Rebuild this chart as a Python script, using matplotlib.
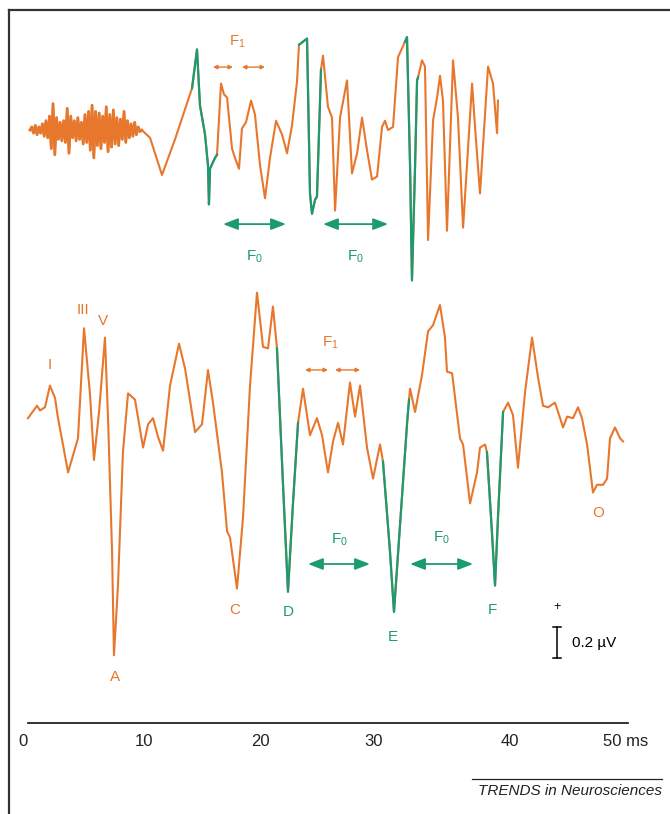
import numpy as np
import matplotlib.pyplot as plt

plt.rcParams['font.family'] = ['Liberation Sans', 'DejaVu Sans']
plt.rcParams['mathtext.fontset'] = 'custom'
plt.rcParams['mathtext.rm'] = 'Liberation Sans'
plt.rcParams['mathtext.it'] = 'Liberation Sans:italic'

ORANGE = '#e8772e'
GREEN = '#1c9a70'

# top trace (response to speech syllable), ms / uV
noise_t = [0.25, 0.4, 0.55, 0.7, 0.85, 1.0, 1.15, 1.3, 1.45, 1.6, 1.75, 1.9, 2.05, 2.2, 2.35, 2.5,
           2.65, 2.8, 2.95, 3.1, 3.25, 3.4, 3.55, 3.7, 3.85, 4.0, 4.15, 4.3, 4.45, 4.6, 4.75, 4.9,
           5.05, 5.2, 5.35, 5.5, 5.65, 5.8, 5.95, 6.1, 6.25, 6.4, 6.55, 6.7, 6.85, 7.0, 7.15, 7.3,
           7.45, 7.6, 7.75, 7.9, 8.05, 8.2, 8.35, 8.5, 8.65, 8.8, 8.95, 9.1, 9.25, 9.4, 9.55, 9.7]
noise_v = [0.0, 0.02, -0.02, 0.03, -0.03, 0.02, -0.02, 0.04, -0.04, 0.06, -0.05, 0.09, -0.12, 0.17,
           -0.16, 0.08, -0.06, 0.05, -0.07, 0.06, -0.08, 0.14, -0.15, 0.09, -0.05, 0.06, -0.07, 0.08,
           -0.06, 0.05, -0.09, 0.1, -0.08, 0.12, -0.13, 0.16, -0.18, 0.12, -0.1, 0.11, -0.12, 0.09,
           -0.08, 0.15, -0.14, 0.1, -0.11, 0.13, -0.09, 0.08, -0.1, 0.07, -0.06, 0.12, -0.08, 0.06,
           -0.05, 0.04, -0.04, 0.05, -0.03, 0.02, -0.01, 0.0]

top_t = [10.40, 11.41, 12.51, 13.78, 13.95, 14.37, 14.62, 15.05, 15.30, 15.38, 15.47, 15.89, 16.06,
         16.40, 16.65, 16.91, 17.33, 17.58, 17.92, 18.17, 18.51, 18.94, 19.27, 19.70, 20.12, 20.54,
         21.05, 21.56, 21.98, 22.40, 22.82, 22.99, 23.67, 23.92, 24.09, 24.35, 24.51, 24.77, 24.85,
         25.02, 25.44, 25.78, 26.04, 26.46, 27.05, 27.47, 27.90, 28.32, 28.74, 29.16, 29.59, 30.01,
         30.26, 30.52, 30.94, 31.36, 31.78, 31.95, 32.12, 32.38, 32.54, 32.80, 32.97, 33.05, 33.39,
         33.64, 33.90, 34.32, 34.66, 34.91, 35.16, 35.50, 36.01, 36.43, 36.86, 37.62, 37.87, 38.29,
         38.97, 39.39, 39.73, 39.81]
top_v = [-0.05, -0.29, -0.06, 0.23, 0.27, 0.52, 0.16, -0.03, -0.23, -0.48, -0.25, -0.18, -0.16,
         0.30, 0.23, 0.21, -0.12, -0.18, -0.25, 0.01, 0.05, 0.19, 0.10, -0.23, -0.44, -0.18,
         0.06, -0.03, -0.15, 0.03, 0.31, 0.55, 0.59, -0.41, -0.54, -0.45, -0.43, 0.19, 0.39,
         0.48, 0.15, 0.08, -0.52, 0.08, 0.32, -0.28, -0.15, 0.08, -0.13, -0.32, -0.30, 0.02,
         0.06, 0.0, 0.02, 0.47, 0.54, 0.57, 0.60, -0.24, -0.97, -0.24, 0.32, 0.34, 0.45,
         0.41, -0.71, 0.06, 0.21, 0.35, 0.19, -0.65, 0.45, 0.08, -0.63, 0.30, 0.02, -0.41,
         0.41, 0.30, -0.02, 0.19]
top_green = [(13.95, 16.06), (22.99, 24.85), (31.95, 33.05)]

# bottom trace (brainstem response)
bot_t = [0.08, 0.85, 1.10, 1.52, 1.94, 2.37, 2.62, 3.04, 3.47, 3.89, 4.31, 4.82, 5.33, 5.66, 6.09,
         6.59, 6.85, 7.19, 7.35, 7.69, 8.11, 8.54, 9.13, 9.81, 10.23, 10.65, 11.07, 11.50, 12.09,
         12.85, 13.36, 14.20, 14.79, 15.30, 15.72, 16.48, 16.91, 17.16, 17.75, 18.26, 18.85, 19.44,
         19.95, 20.37, 20.79, 21.13, 21.64, 22.06, 22.49, 22.91, 23.33, 23.92, 24.51, 24.94, 25.44,
         25.87, 26.29, 26.71, 27.30, 27.73, 28.15, 28.74, 29.25, 29.84, 30.09, 30.68, 31.02, 31.53,
         32.12, 32.29, 32.38, 32.80, 33.39, 33.90, 34.32, 34.91, 35.33, 35.50, 35.93, 36.60, 36.86,
         37.45, 38.04, 38.29, 38.72, 38.88, 39.31, 39.56, 39.81, 40.24, 40.66, 41.08, 41.50, 42.10,
         42.69, 43.20, 43.62, 44.04, 44.63, 45.06, 45.31, 45.65, 46.15, 46.58, 46.91, 47.34, 47.84,
         48.18, 48.69, 49.03, 49.28, 49.70, 50.13, 50.38]
bot_v = [-0.02, 0.06, 0.03, 0.05, 0.19, 0.11, -0.02, -0.19, -0.37, -0.26, -0.15, 0.56, 0.13, -0.29,
         0.02, 0.50, -0.02, -0.88, -1.55, -1.10, -0.24, 0.14, 0.10, -0.21, -0.06, -0.02, -0.14,
         -0.23, 0.19, 0.46, 0.30, -0.11, -0.06, 0.29, 0.08, -0.37, -0.75, -0.79, -1.12, -0.66,
         0.19, 0.79, 0.44, 0.43, 0.70, 0.43, -0.45, -1.14, -0.56, -0.05, 0.17, -0.13, -0.02,
         -0.13, -0.37, -0.17, -0.05, -0.19, 0.21, -0.01, 0.19, -0.21, -0.41, -0.19, -0.30, -0.88,
         -1.27, -0.71, -0.06, 0.10, 0.17, 0.02, 0.26, 0.54, 0.58, 0.71, 0.50, 0.28, 0.27, -0.15,
         -0.19, -0.57, -0.37, -0.21, -0.19, -0.24, -0.77, -1.10, -0.66, 0.02, 0.08, 0.0, -0.34,
         0.15, 0.50, 0.24, 0.06, 0.05, 0.08, -0.02, -0.08, -0.01, -0.02, 0.05, -0.02, -0.19,
         -0.50, -0.45, -0.45, -0.41, -0.15, -0.08, -0.15, -0.17]
bot_green = [(21.13, 22.91), (30.09, 32.29), (38.88, 40.24)]

# peak labels: (text, time, amplitude, colour key)
peak_labels = [('I', 1.94, 0.32, 'o'), ('III', 4.73, 0.68, 'o'), ('V', 6.42, 0.61, 'o'),
               ('A', 7.44, -1.69, 'o'), ('C', 17.58, -1.26, 'o'), ('D', 22.06, -1.27, 'g'),
               ('E', 30.94, -1.43, 'g'), ('F', 39.31, -1.26, 'g'), ('O', 48.3, -0.63, 'o')]

tick_pos = [-0.3, 9.9, 19.7, 29.3, 40.8, 48.7]
tick_lab = ['0', '10', '20', '30', '40', '50 ms']

top_base = 4.413
bot_base = 2.574

fig = plt.figure(figsize=(6.7, 8.14), dpi=100)
ax = fig.add_axes([0, 0, 1, 1])
ax.set_xlim(-2.282, 54.35)
ax.set_ylim(0, 5.252)
ax.axis('off')

# frame (left + top edges)
fig.add_artist(plt.Line2D([0.0135, 0.0135], [0, 0.988], color='#333333', lw=1.6))
fig.add_artist(plt.Line2D([0.0135, 1.0], [0.988, 0.988], color='#333333', lw=1.6))


def draw_trace(t, v, base, greens):
    t = np.asarray(t)
    v = np.asarray(v) + base
    ax.plot(t, v, color=ORANGE, lw=1.5, solid_joinstyle='round')
    for a, b in greens:
        m = (t >= a) & (t <= b)
        ax.plot(t[m], v[m], color=GREEN, lw=1.6, solid_joinstyle='round')


# noisy pre-stimulus part drawn a bit heavier, like the original
ax.plot(noise_t, np.asarray(noise_v) + top_base, color=ORANGE, lw=2.0)
draw_trace(noise_t + top_t, noise_v + top_v, top_base, top_green)
draw_trace(bot_t, bot_v, bot_base, bot_green)

for txt, t, v, c in peak_labels:
    ax.text(t, bot_base + v, txt, color=ORANGE if c == 'o' else GREEN, fontsize=11,
            ha='center', va='center')


def f_arrow(x0, x1, y, color, small):
    if small:
        ax.annotate('', xy=(x1, y), xytext=(x0, y),
                    arrowprops=dict(arrowstyle='<|-|>', color=color, lw=1.0,
                                    mutation_scale=6, shrinkA=0, shrinkB=0))
    else:
        ax.annotate('', xy=(x1, y), xytext=(x0, y),
                    arrowprops=dict(arrowstyle='<|-|>,head_length=0.9,head_width=0.35',
                                    color=color, lw=1.3,
                                    mutation_scale=10, shrinkA=0, shrinkB=0))


# F1 markers
ax.text(17.75, 4.981, r'$\mathrm{F}_1$', color=ORANGE, fontsize=11, ha='center', va='center')
f_arrow(15.72, 17.41, 4.819, ORANGE, True)
f_arrow(18.17, 20.12, 4.819, ORANGE, True)
ax.text(25.61, 3.039, r'$\mathrm{F}_1$', color=ORANGE, fontsize=11, ha='center', va='center')
f_arrow(23.50, 25.44, 2.865, ORANGE, True)
f_arrow(26.04, 28.15, 2.865, ORANGE, True)

# F0 markers
for x0, x1, y, ty in [(16.57, 21.89, 3.806, 3.594), (25.02, 30.52, 3.806, 3.594),
                      (23.75, 28.99, 1.613, 1.768), (32.38, 37.70, 1.613, 1.781)]:
    f_arrow(x0, x1, y, GREEN, False)
    ax.text((x0 + x1) / 2, ty, r'$\mathrm{F}_0$', color=GREEN, fontsize=11,
            ha='center', va='center')

# amplitude scale bar
ax.plot([44.8, 44.8], [1.006, 1.206], color='black', lw=1.1)
ax.plot([44.5, 45.1], [1.206, 1.206], color='black', lw=1.1)
ax.plot([44.5, 45.1], [1.006, 1.006], color='black', lw=1.1)
ax.text(44.8, 1.335, '+', fontsize=9, ha='center', va='center')
ax.text(46.1, 1.103, '0.2 \u00b5V', fontsize=11, ha='left', va='center')

# time axis
ax.plot([0.08, 50.8], [0.587, 0.587], color='#222222', lw=1.3)
for p, lab in zip(tick_pos, tick_lab):
    ax.text(p, 0.465, lab, fontsize=12, color='#222222',
            ha='center' if lab != '50 ms' else 'left', va='center')

# journal tag
ax.plot([37.6, 53.7], [0.226, 0.226], color='#222222', lw=0.9)
ax.text(53.7, 0.150, 'TRENDS in Neurosciences', fontsize=11, style='italic',
        color='#222222', ha='right', va='center')

fig.savefig('out.png', dpi=100)
